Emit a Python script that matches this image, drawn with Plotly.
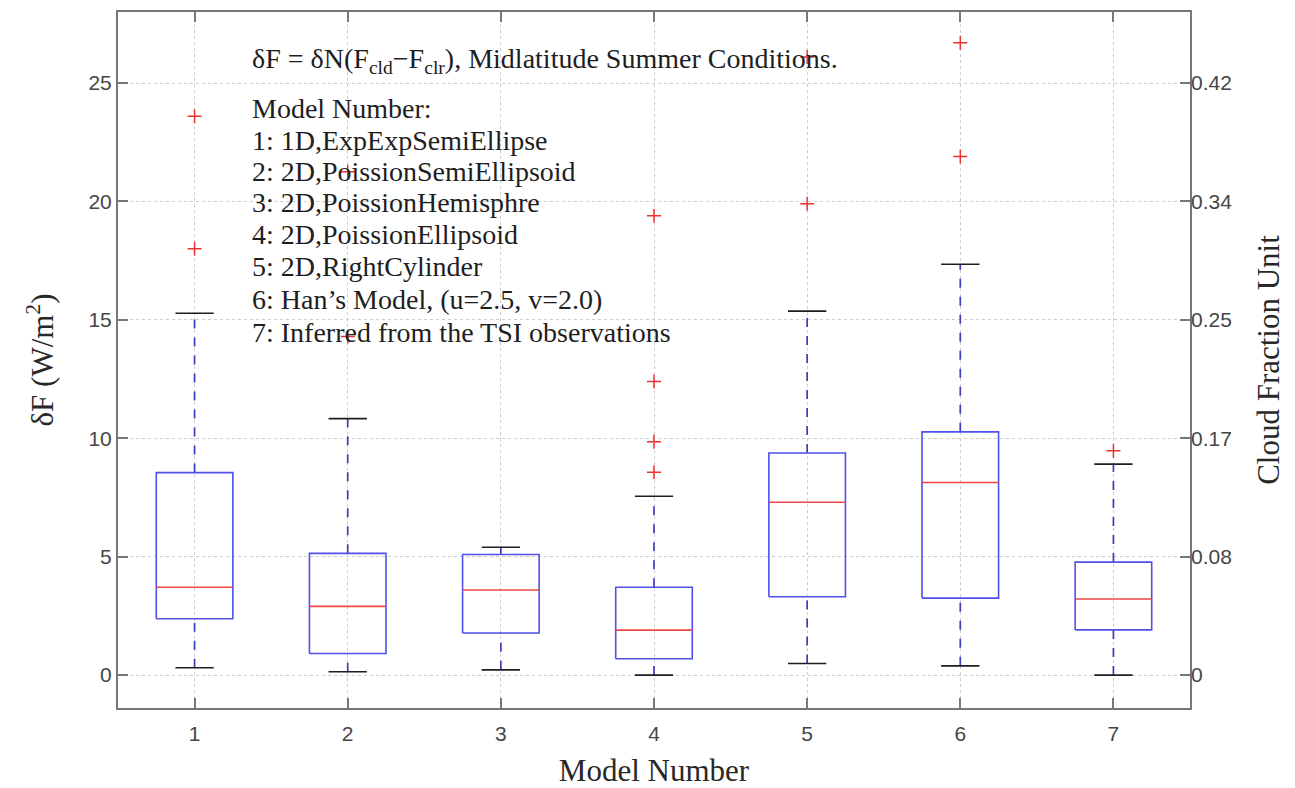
import plotly.graph_objects as go

# Box statistics of dF (W/m^2) for each model
models = [1, 2, 3, 4, 5, 6, 7]
q1 = [2.38, 0.91, 1.78, 0.69, 3.31, 3.25, 1.91]
medians = [3.71, 2.90, 3.59, 1.90, 7.30, 8.13, 3.21]
q3 = [8.55, 5.14, 5.09, 3.71, 9.38, 10.27, 4.77]
whisker_low = [0.31, 0.14, 0.22, 0.00, 0.49, 0.39, 0.00]
whisker_high = [15.28, 10.83, 5.40, 7.55, 15.37, 17.35, 8.91]

# Outliers (model number, value)
outlier_model = [1, 1, 2, 2, 4, 4, 4, 4, 5, 5, 6, 6, 7]
outlier_value = [23.6, 18.0, 21.25, 14.3, 19.4, 12.4, 9.85, 8.57, 26.1, 19.9, 26.7, 21.9, 9.47]

# Axis ticks
left_ticks = [0, 5, 10, 15, 20, 25]
right_tick_text = ["0", "0.08", "0.17", "0.25", "0.34", "0.42"]

legend_lines = [
    "Model Number:",
    "1: 1D,ExpExpSemiEllipse",
    "2: 2D,PoissionSemiEllipsoid",
    "3: 2D,PoissionHemisphre",
    "4: 2D,PoissionEllipsoid",
    "5: 2D,RightCylinder",
    "6: Han\u2019s Model, (u=2.5, v=2.0)",
    "7: Inferred from the TSI observations",
]

BOX_HALF = 0.25
CAP_HALF = 0.125
y_range = [-1.39, 28.0]

box_x, box_y = [], []
med_x, med_y = [], []
wh_x, wh_y = [], []
cap_x, cap_y = [], []
for m, a, md, b, lo, hi in zip(models, q1, medians, q3, whisker_low, whisker_high):
    box_x += [m - BOX_HALF, m + BOX_HALF, m + BOX_HALF, m - BOX_HALF, m - BOX_HALF, None]
    box_y += [a, a, b, b, a, None]
    med_x += [m - BOX_HALF, m + BOX_HALF, None]
    med_y += [md, md, None]
    wh_x += [m, m, None, m, m, None]
    wh_y += [b, hi, None, lo, a, None]
    cap_x += [m - CAP_HALF, m + CAP_HALF, None, m - CAP_HALF, m + CAP_HALF, None]
    cap_y += [hi, hi, None, lo, lo, None]

fig = go.Figure()
fig.add_trace(go.Scatter(x=wh_x, y=wh_y, mode="lines",
                         line=dict(color="rgb(60,60,190)", width=1.7, dash="dash"),
                         hoverinfo="skip", showlegend=False))
fig.add_trace(go.Scatter(x=cap_x, y=cap_y, mode="lines",
                         line=dict(color="rgb(30,30,30)", width=1.6),
                         hoverinfo="skip", showlegend=False))
fig.add_trace(go.Scatter(x=box_x, y=box_y, mode="lines",
                         line=dict(color="rgb(80,80,235)", width=1.6),
                         hoverinfo="skip", showlegend=False))
fig.add_trace(go.Scatter(x=med_x, y=med_y, mode="lines",
                         line=dict(color="rgb(240,70,70)", width=1.6),
                         hoverinfo="skip", showlegend=False))
fig.add_trace(go.Scatter(x=outlier_model, y=outlier_value, mode="markers",
                         marker=dict(symbol="cross-thin", size=10,
                                     line=dict(color="rgb(235,50,50)", width=1.5)),
                         showlegend=False))
# carrier for the right-hand axis
fig.add_trace(go.Scatter(x=[models[0]], y=[0], yaxis="y2", mode="markers",
                         marker=dict(opacity=0), hoverinfo="skip", showlegend=False))

serif = "Liberation Serif, Times New Roman, serif"
sans = "Liberation Sans, Arial, sans-serif"
title_font = dict(family=serif, size=31, color="rgb(40,40,40)")
tick_font = dict(family=sans, size=21, color="rgb(70,70,70)")
axis_common = dict(
    showline=True, linecolor="rgb(120,120,120)", linewidth=2,
    ticks="inside", ticklen=10, tickcolor="rgb(120,120,120)", tickwidth=1.5,
    tickfont=tick_font, zeroline=False, automargin=False,
    showgrid=True, gridcolor="rgb(205,205,205)", griddash="dot", gridwidth=1.3,
)

fig.update_layout(
    width=1295, height=788,
    margin=dict(l=118, r=105, t=12, b=80),
    paper_bgcolor="white", plot_bgcolor="white",
    xaxis=dict(range=[0.5, 7.5], tickvals=models, mirror="ticks", ticklabelstandoff=6,
               title=dict(text="Model Number", font=title_font, standoff=16),
               **axis_common),
    yaxis=dict(range=y_range, tickvals=left_ticks, mirror="ticks",
               title=dict(text="\u03b4F (W/m<sup>2</sup>)", font=title_font, standoff=26),
               **axis_common),
    yaxis2=dict(range=y_range, tickvals=left_ticks, ticktext=right_tick_text,
                overlaying="y", side="right", showgrid=False, showline=False,
                ticks="", zeroline=False, tickfont=tick_font, automargin=False,
                title=dict(text="Cloud Fraction Unit", font=title_font, standoff=26)),
)

# Descriptive text block inside the axes
text_x = 1.363
text_font = dict(family=serif, size=28, color="rgb(30,30,30)")
fig.add_annotation(
    x=text_x, y=25.95, xref="x", yref="y", xanchor="left", yanchor="middle",
    text="\u03b4F = \u03b4N(F<sub>cld</sub>\u2212F<sub>clr</sub>), Midlatitude Summer Conditions.",
    showarrow=False, font=text_font,
)
line_y = [23.94, 22.59, 21.28, 19.97, 18.62, 17.27, 15.88, 14.48]
for t, yy in zip(legend_lines, line_y):
    fig.add_annotation(
        x=text_x, y=yy, xref="x", yref="y", xanchor="left", yanchor="middle",
        text=t, showarrow=False, font=text_font,
    )

fig.write_html("out.html")
